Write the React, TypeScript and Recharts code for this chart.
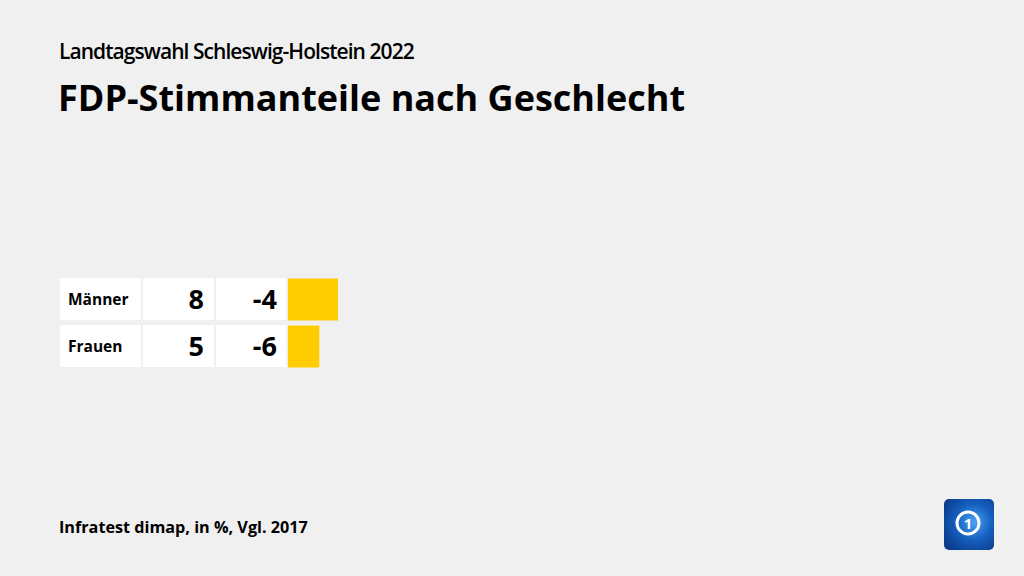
import React from "react";
import { BarChart, Bar, XAxis, YAxis } from "recharts";

const categories = ["Männer", "Frauen"];
const shares = [8, 5];
const changes = ["-4", "-6"];

const data = categories.map((c, i) => ({ name: c, value: shares[i], change: changes[i] }));

const FONT = "'Open Sans', sans-serif";

const RowTick = (props: any) => {
  const { y, payload } = props;
  const i = categories.indexOf(payload.value);
  const top = y - 21;
  return (
    <g>
      <rect x={60} y={top} width={81} height={42} fill="#ffffff" />
      <rect x={143} y={top} width={71} height={42} fill="#ffffff" />
      <rect x={216} y={top} width={70} height={42} fill="#ffffff" />
      <text x={68} y={y + 6} fontFamily={FONT} fontWeight={700} fontSize={15.5} fill="#000">
        {payload.value}
      </text>
      <text x={204} y={y + 9.5} textAnchor="end" fontFamily={FONT} fontWeight={700} fontSize={27} fill="#000">
        {shares[i]}
      </text>
      <text x={277} y={y + 9.5} textAnchor="end" fontFamily={FONT} fontWeight={700} fontSize={27} fill="#000">
        {changes[i]}
      </text>
    </g>
  );
};

export default function App() {
  return (
    <div style={{ position: "absolute", left: 0, top: 0, width: 1024, height: 576, background: "#f0f0f0" }}>
      <BarChart
        width={1024}
        height={576}
        data={data}
        layout="vertical"
        margin={{ top: 275.5, right: 111, bottom: 206.5, left: 60 }}
        barCategoryGap={2.5}
      >
        <XAxis type="number" domain={[0, 100]} hide />
        <YAxis
          type="category"
          dataKey="name"
          width={228}
          axisLine={false}
          tickLine={false}
          tick={<RowTick />}
        />
        <Bar dataKey="value" fill="#ffcc00" barSize={42} isAnimationActive={false} />
      </BarChart>
      <svg width={1024} height={576} style={{ position: "absolute", left: 0, top: 0, pointerEvents: "none" }}>
        <text x={59} y={59} fontFamily={FONT} fontWeight={600} fontSize={21} letterSpacing={-0.95} fill="#000">
          Landtagswahl Schleswig-Holstein 2022
        </text>
        <text x={58} y={111} fontFamily={FONT} fontWeight={700} fontSize={36} letterSpacing={0} fill="#000">
          FDP-Stimmanteile nach Geschlecht
        </text>
        <text x={59} y={533} fontFamily={FONT} fontWeight={700} fontSize={16.2} fill="#000">
          Infratest dimap, in %, Vgl. 2017
        </text>
        <defs>
          <radialGradient id="lg" cx="0.6" cy="0.45" r="0.7">
            <stop offset="0" stopColor="#4aa3f0" />
            <stop offset="0.5" stopColor="#1560c0" />
            <stop offset="1" stopColor="#0a3b8a" />
          </radialGradient>
        </defs>
        <rect x={944} y={499} width={50} height={51} rx={5} fill="url(#lg)" />
        <circle cx={968} cy={523} r={11} fill="none" stroke="#ffffff" strokeWidth={3} />
        <text x={968} y={529} textAnchor="middle" fontFamily={FONT} fontWeight={700} fontSize={15} fill="#ffffff">1</text>
      </svg>
    </div>
  );
}
